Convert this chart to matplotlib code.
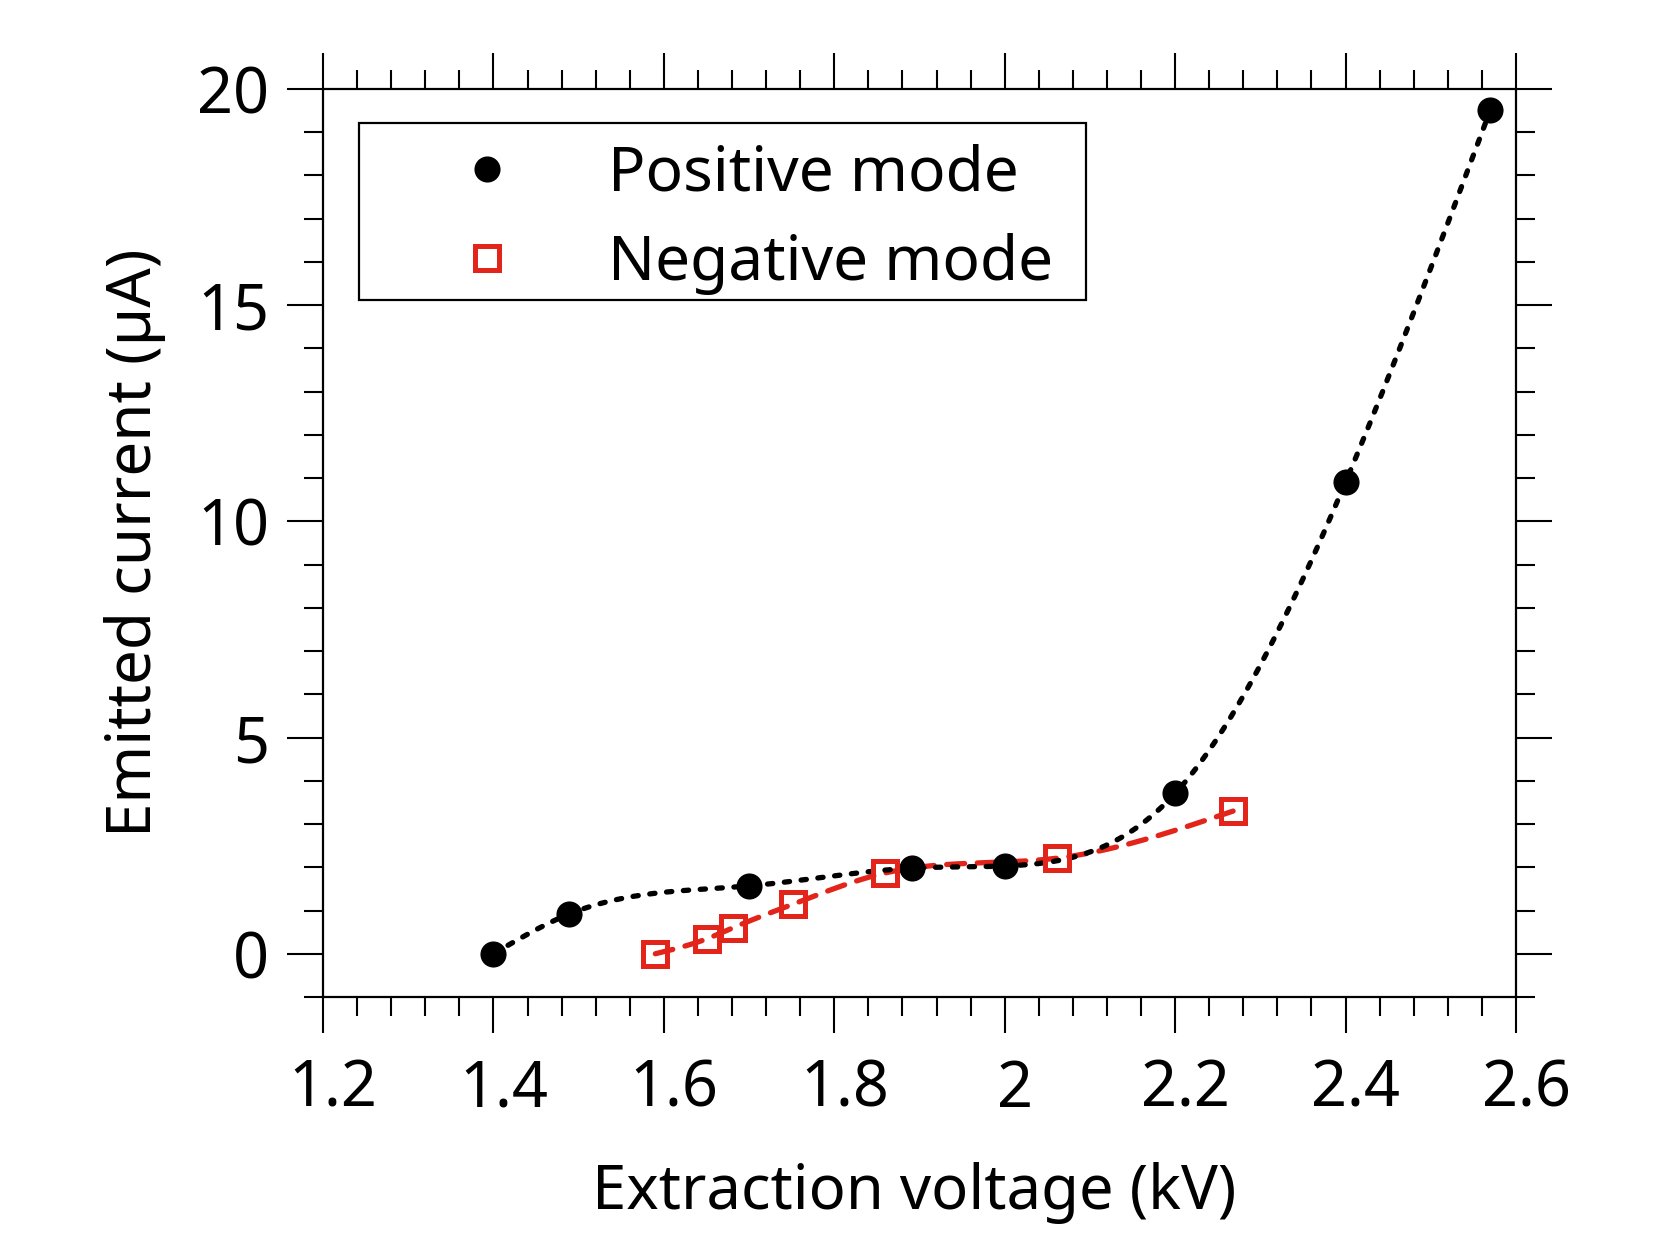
import numpy as np
import matplotlib
matplotlib.use("Agg")
import matplotlib.pyplot as plt
from matplotlib.lines import Line2D
from matplotlib.patches import Rectangle
from matplotlib.ticker import MultipleLocator, FuncFormatter
from matplotlib.transforms import ScaledTranslation

plt.rcParams['font.family'] = ['Noto Sans', 'DejaVu Sans']

# ---- data ----
pos_voltage = [1.40, 1.489, 1.70, 1.891, 2.00, 2.20, 2.40, 2.57]
pos_current = [0.00, 0.92, 1.57, 1.98, 2.03, 3.71, 10.91, 19.52]
neg_voltage = [1.59, 1.651, 1.681, 1.752, 1.860, 2.061, 2.268]
neg_current = [0.00, 0.35, 0.60, 1.15, 1.87, 2.21, 3.30]
labels = ["Positive mode", "Negative mode"]
x_label = "Extraction voltage (kV)"
y_label = "Emitted current (µA)"

RED = '#E3241B'
DPI = 200


def natural_spline(x, y, n=400):
    x = np.asarray(x, float)
    y = np.asarray(y, float)
    k = len(x)
    h = np.diff(x)
    A = np.zeros((k, k))
    b = np.zeros(k)
    A[0, 0] = 1
    A[-1, -1] = 1
    for i in range(1, k - 1):
        A[i, i - 1] = h[i - 1]
        A[i, i] = 2 * (h[i - 1] + h[i])
        A[i, i + 1] = h[i]
        b[i] = 3 * ((y[i + 1] - y[i]) / h[i] - (y[i] - y[i - 1]) / h[i - 1])
    c = np.linalg.solve(A, b)
    bb = (y[1:] - y[:-1]) / h - h * (2 * c[:-1] + c[1:]) / 3
    d = (c[1:] - c[:-1]) / (3 * h)
    xs = np.linspace(x[0], x[-1], n)
    idx = np.clip(np.searchsorted(x, xs) - 1, 0, k - 2)
    dx = xs - x[idx]
    ys = y[idx] + bb[idx] * dx + c[idx] * dx ** 2 + d[idx] * dx ** 3
    return xs, ys


fig = plt.figure(figsize=(1661 / DPI, 1246 / DPI), dpi=DPI)
ax = fig.add_axes([323 / 1661, 1 - 997 / 1246, (1516 - 323) / 1661, (997 - 89) / 1246])

# smooth connecting curves
nx, ny = natural_spline(neg_voltage, neg_current)
ax.plot(nx, ny, color=RED, lw=1.9, dashes=(3.4, 2.4), dash_capstyle='round', zorder=2)
px, py = natural_spline(pos_voltage, pos_current)
ax.plot(px, py, color='black', lw=1.9, dashes=(1.0, 2.2), dash_capstyle='round', zorder=3)

CIRC = dict(marker='o', color='black', ms=9.4, mew=0)
SQ = dict(marker='s', mfc='none', mec=RED, ms=8.3, mew=1.8)
ax.plot(pos_voltage, pos_current, ls='none', zorder=4, clip_on=False, **CIRC)
ax.plot(neg_voltage, neg_current, ls='none', zorder=5, clip_on=False, **SQ)

ax.set_xlim(1.2, 2.6)
ax.set_ylim(-1, 20)

ax.xaxis.set_major_locator(MultipleLocator(0.2))
ax.xaxis.set_minor_locator(MultipleLocator(0.04))
ax.yaxis.set_major_locator(MultipleLocator(5))
ax.yaxis.set_minor_locator(MultipleLocator(1))


def fmt(v, pos):
    s = f"{v:.1f}"
    if s.endswith(".0"):
        s = s[:-2]
    return s


ax.xaxis.set_major_formatter(FuncFormatter(fmt))
ax.yaxis.set_major_formatter(FuncFormatter(lambda v, p: f"{v:.0f}"))

ax.tick_params(which='both', direction='out', top=True, right=True, width=0.75, color='black')
ax.tick_params(which='major', length=12.8, labelsize=22.7)
ax.tick_params(which='minor', length=6.9)
ax.tick_params(axis='x', which='major', pad=9)
ax.tick_params(axis='y', which='major', pad=6.5)
for s in ax.spines.values():
    s.set_linewidth(0.8)

# x tick labels sit slightly right of their ticks in the reference
shift = ScaledTranslation(10 / DPI, 0, fig.dpi_scale_trans)
for lab in ax.get_xticklabels():
    lab.set_transform(lab.get_transform() + shift)

xl = ax.set_xlabel(x_label, fontsize=22.15, labelpad=14.5)
xl.set_transform(xl.get_transform() + ScaledTranslation(-5 / DPI, 0, fig.dpi_scale_trans))
ax.set_ylabel(y_label, fontsize=22.3, labelpad=11.2)

handles = [
    Line2D([], [], ls='none', **CIRC),
    Line2D([], [], ls='none', **SQ),
]
bx, by, bw, bh = 0.0302, 0.7676, 0.6094, 0.195
leg = ax.legend(handles, labels, loc='upper left',
                bbox_to_anchor=(bx + 0.0027, by, bw, bh - 0.0058), mode='expand',
                borderaxespad=0, fontsize=22.4, frameon=False,
                borderpad=0.25, handlelength=3.5,
                handletextpad=0.2, labelspacing=0.43, numpoints=1)
frame = Rectangle((bx, by), bw, bh, transform=ax.transAxes, fill=False,
                  edgecolor='black', lw=0.8, zorder=6, clip_on=False)
ax.add_patch(frame)

fig.savefig("out.png", dpi=DPI, facecolor='white')
